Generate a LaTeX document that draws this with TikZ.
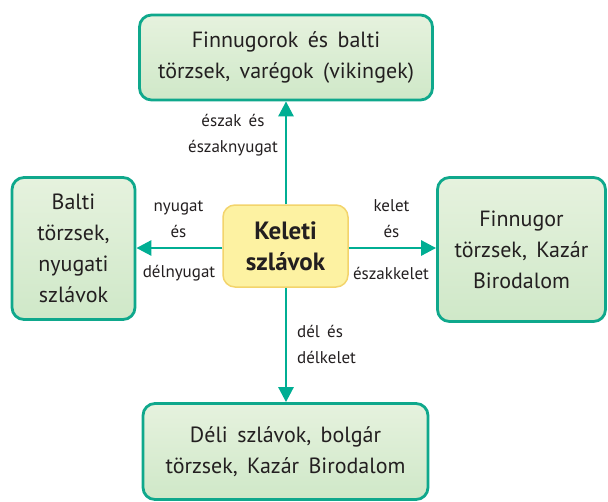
\documentclass[tikz,border=0pt]{standalone}
\usepackage{fontspec}
\setmainfont{PT Sans}[WordSpace=1.6]
\usetikzlibrary{arrows.meta}
\definecolor{teal1}{HTML}{0FA88C}
\definecolor{arrc}{HTML}{00AE93}
\definecolor{gtop}{HTML}{E6F2DE}
\definecolor{gbot}{HTML}{CFE8C8}
\definecolor{yfill}{HTML}{FDF2A2}
\definecolor{yedge}{HTML}{F3D46C}
\definecolor{txt}{HTML}{231F20}
\tikzset{
  gbox/.style={draw=teal1, line width=2.8pt, rounded corners=12pt, top color=gtop, bottom color=gbot,
    align=center, font=\fontsize{22}{31}\selectfont, text=txt, inner sep=0pt},
  cbox/.style={draw=yedge, line width=1.5pt, rounded corners=12pt, fill=yfill,
    align=center, font=\fontsize{25}{31}\selectfont\bfseries, text=txt, inner sep=0pt},
  lbl/.style={font=\fontsize{17}{26}\selectfont, text=txt, inner sep=0pt},
  arr/.style={draw=arrc, line width=2.8pt, -{Triangle[length=15pt,width=15pt]}}
}
\begin{document}
\begin{tikzpicture}[x=1pt,y=-1pt]
\useasboundingbox (0,0) rectangle (608,501);
\node[gbox, minimum width=293pt, minimum height=85pt] (top) at (286,57.5) {Finnugorok és balti\\törzsek, varégok (vikingek)};
\node[gbox, minimum width=123pt, minimum height=142pt] (left) at (73.5,248.5) {Balti\\törzsek,\\nyugati\\szlávok};
\node[gbox, minimum width=168pt, minimum height=144pt] (right) at (521.5,249.5) {Finnugor\\törzsek, Kazár\\Birodalom};
\node[gbox, minimum width=285pt, minimum height=96pt] (bottom) at (285.5,451.5) {Déli szlávok, bolgár\\törzsek, Kazár Birodalom};
\node[cbox, minimum width=125pt, minimum height=82pt] (center) at (285.5,246) {Keleti\\szlávok};
\draw[arr] (center.north -| top.south) -- (top.south);
\draw[arr] (center.south -| top.south) -- (bottom.north -| top.south);
\draw[arr] (center.west |- 0,248) -- (left.east |- 0,248);
\draw[arr] (center.east |- 0,248) -- (right.west |- 0,248);
\node[lbl, align=center] (lN) at (233,135) {észak és\\északnyugat};
\node[lbl, align=center] (lW1) at (178.5,219) {nyugat\\és};
\node[lbl] (lW2) at (179,273) {délnyugat};
\node[lbl, align=center] (lE1) at (391.5,219) {kelet\\és};
\node[lbl] (lE2) at (391,273) {északkelet};
\node[lbl, align=left, anchor=west] (lS) at (297,344) {dél és\\délkelet};
\end{tikzpicture}
\end{document}
